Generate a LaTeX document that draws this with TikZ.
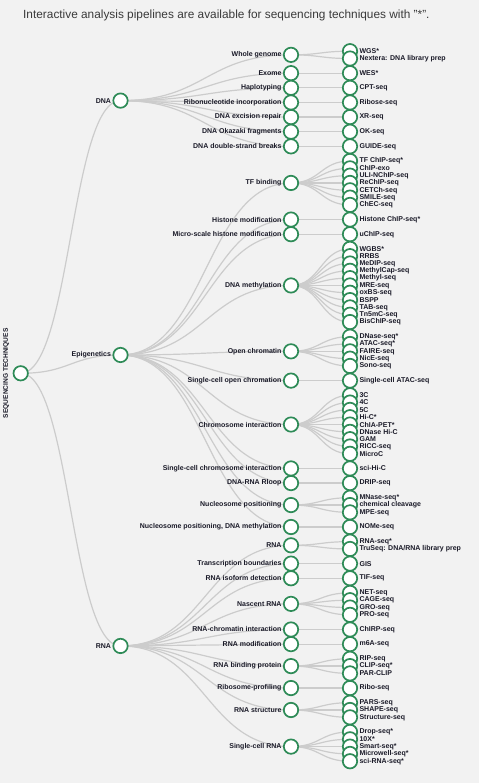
\documentclass[tikz,border=0pt]{standalone}
\usepackage{fontspec}
\setmainfont{Liberation Sans}
\usetikzlibrary{calc}
\definecolor{bgc}{HTML}{F2F2F2}
\definecolor{grn}{HTML}{2E8B57}
\definecolor{lnc}{HTML}{CCCCCC}
\definecolor{txc}{HTML}{1A1A28}
\definecolor{ttl}{HTML}{3A3A3A}
\pgfdeclarelayer{back}
\pgfdeclarelayer{bg}
\pgfsetlayers{back,bg,main}
\newcommand\Lk[2]{\begin{pgfonlayer}{bg}\draw[lnkline] let \p1=(#1.center),\p2=(#2.center) in (\p1) .. controls ({(\x1+\x2)/2},\y1) and ({(\x1+\x2)/2},\y2) .. (\p2);\end{pgfonlayer}}
\newcommand\Md[6]{\node[circ,label={[lab]#4:{#5}}] (#1) at (#2,{51.2+7.32*(#3)}) {};\Lk{#6}{#1}}
\begin{document}
\begin{tikzpicture}[x=1pt,y=-1pt,
  circ/.style={circle,draw=grn,fill=white,line width=1.7pt,minimum size=14.4pt,inner sep=0pt},
  lab/.style={font=\fontsize{7}{8}\selectfont\bfseries,text=txc,inner sep=1pt,label distance=0.3pt},
  lnkline/.style={draw=lnc,line width=1.2pt}]
\begin{pgfonlayer}{back}
\fill[bgc] (0,0) rectangle (479,783);
\end{pgfonlayer}
\useasboundingbox (0,0) rectangle (479,783);
\node[anchor=base west,font=\fontsize{11.85}{14}\selectfont,text=ttl,inner sep=0pt] (title) at (23,18.3) {Interactive analysis pipelines are available for sequencing techniques with "*".};
\node[rotate=90,font=\fontsize{6.6}{8}\selectfont\bfseries,text=txc,inner sep=0pt] (roottxt) at (6.2,373.3) {SEQUENCING TECHNIQUES};
% root
\node[circ] (root) at (20.7,{51.2+7.32*44}) {};
% level 1
\Md{dna}{120.5}{6.75}{left}{DNA}{root}
\Md{epi}{120.5}{41.5}{left}{Epigenetics}{root}
\Md{rna}{120.5}{81.25}{left}{RNA}{root}
% level 2
\Md{wg}{291}{0.5}{left}{Whole genome}{dna}
\Md{exo}{291}{3}{left}{Exome}{dna}
\Md{hap}{291}{5}{left}{Haplotyping}{dna}
\Md{rib}{291}{7}{left}{Ribonucleotide incorporation}{dna}
\Md{exc}{291}{9}{left}{DNA excision repair}{dna}
\Md{oka}{291}{11}{left}{DNA Okazaki fragments}{dna}
\Md{dsb}{291}{13}{left}{DNA double-strand breaks}{dna}
\Md{tfb}{291}{18}{left}{TF binding}{epi}
\Md{hmod}{291}{23}{left}{Histone modification}{epi}
\Md{msh}{291}{25}{left}{Micro-scale histone modification}{epi}
\Md{meth}{291}{32}{left}{DNA methylation}{epi}
\Md{opc}{291}{41}{left}{Open chromatin}{epi}
\Md{scoc}{291}{45}{left}{Single-cell open chromation}{epi}
\Md{chr}{291}{51}{left}{Chromosome interaction}{epi}
\Md{scci}{291}{57}{left}{Single-cell chromosome interaction}{epi}
\Md{rloop}{291}{59}{left}{DNA-RNA Rloop}{epi}
\Md{nuc}{291}{62}{left}{Nucleosome positioning}{epi}
\Md{nucm}{291}{65}{left}{Nucleosome positioning, DNA methylation}{epi}
\Md{rnab}{291}{67.5}{left}{RNA}{rna}
\Md{tsb}{291}{70}{left}{Transcription boundaries}{rna}
\Md{iso}{291}{72}{left}{RNA isoform detection}{rna}
\Md{nas}{291}{75.5}{left}{Nascent RNA}{rna}
\Md{rch}{291}{79}{left}{RNA-chromatin interaction}{rna}
\Md{rmod}{291}{81}{left}{RNA modification}{rna}
\Md{rbp}{291}{84}{left}{RNA binding protein}{rna}
\Md{ribo}{291}{87}{left}{Ribosome-profiling}{rna}
\Md{rst}{291}{90}{left}{RNA structure}{rna}
\Md{scr}{291}{95}{left}{Single-cell RNA}{rna}
% level 3
\Md{l0}{350}{0}{right}{WGS*}{wg}
\Md{l1}{350}{1}{right}{Nextera: DNA library prep}{wg}
\Md{l3}{350}{3}{right}{WES*}{exo}
\Md{l5}{350}{5}{right}{CPT-seq}{hap}
\Md{l7}{350}{7}{right}{Ribose-seq}{rib}
\Md{l9}{350}{9}{right}{XR-seq}{exc}
\Md{l11}{350}{11}{right}{OK-seq}{oka}
\Md{l13}{350}{13}{right}{GUIDE-seq}{dsb}
\Md{l15}{350}{15}{right}{TF ChIP-seq*}{tfb}
\Md{l16}{350}{16}{right}{ChIP-exo}{tfb}
\Md{l17}{350}{17}{right}{ULI-NChIP-seq}{tfb}
\Md{l18}{350}{18}{right}{ReChIP-seq}{tfb}
\Md{l19}{350}{19}{right}{CETCh-seq}{tfb}
\Md{l20}{350}{20}{right}{SMILE-seq}{tfb}
\Md{l21}{350}{21}{right}{ChEC-seq}{tfb}
\Md{l23}{350}{23}{right}{Histone ChIP-seq*}{hmod}
\Md{l25}{350}{25}{right}{uChIP-seq}{msh}
\Md{l27}{350}{27}{right}{WGBS*}{meth}
\Md{l28}{350}{28}{right}{RRBS}{meth}
\Md{l29}{350}{29}{right}{MeDIP-seq}{meth}
\Md{l30}{350}{30}{right}{MethylCap-seq}{meth}
\Md{l31}{350}{31}{right}{Methyl-seq}{meth}
\Md{l32}{350}{32}{right}{MRE-seq}{meth}
\Md{l33}{350}{33}{right}{oxBS-seq}{meth}
\Md{l34}{350}{34}{right}{BSPP}{meth}
\Md{l35}{350}{35}{right}{TAB-seq}{meth}
\Md{l36}{350}{36}{right}{Tn5mC-seq}{meth}
\Md{l37}{350}{37}{right}{BisChIP-seq}{meth}
\Md{l39}{350}{39}{right}{DNase-seq*}{opc}
\Md{l40}{350}{40}{right}{ATAC-seq*}{opc}
\Md{l41}{350}{41}{right}{FAIRE-seq}{opc}
\Md{l42}{350}{42}{right}{NicE-seq}{opc}
\Md{l43}{350}{43}{right}{Sono-seq}{opc}
\Md{l45}{350}{45}{right}{Single-cell ATAC-seq}{scoc}
\Md{l47}{350}{47}{right}{3C}{chr}
\Md{l48}{350}{48}{right}{4C}{chr}
\Md{l49}{350}{49}{right}{5C}{chr}
\Md{l50}{350}{50}{right}{Hi-C*}{chr}
\Md{l51}{350}{51}{right}{ChIA-PET*}{chr}
\Md{l52}{350}{52}{right}{DNase Hi-C}{chr}
\Md{l53}{350}{53}{right}{GAM}{chr}
\Md{l54}{350}{54}{right}{RICC-seq}{chr}
\Md{l55}{350}{55}{right}{MicroC}{chr}
\Md{l57}{350}{57}{right}{sci-Hi-C}{scci}
\Md{l59}{350}{59}{right}{DRIP-seq}{rloop}
\Md{l61}{350}{61}{right}{MNase-seq*}{nuc}
\Md{l62}{350}{62}{right}{chemical cleavage}{nuc}
\Md{l63}{350}{63}{right}{MPE-seq}{nuc}
\Md{l65}{350}{65}{right}{NOMe-seq}{nucm}
\Md{l67}{350}{67}{right}{RNA-seq*}{rnab}
\Md{l68}{350}{68}{right}{TruSeq: DNA/RNA library prep}{rnab}
\Md{l70}{350}{70}{right}{GIS}{tsb}
\Md{l72}{350}{72}{right}{TIF-seq}{iso}
\Md{l74}{350}{74}{right}{NET-seq}{nas}
\Md{l75}{350}{75}{right}{CAGE-seq}{nas}
\Md{l76}{350}{76}{right}{GRO-seq}{nas}
\Md{l77}{350}{77}{right}{PRO-seq}{nas}
\Md{l79}{350}{79}{right}{ChIRP-seq}{rch}
\Md{l81}{350}{81}{right}{m6A-seq}{rmod}
\Md{l83}{350}{83}{right}{RIP-seq}{rbp}
\Md{l84}{350}{84}{right}{CLIP-seq*}{rbp}
\Md{l85}{350}{85}{right}{PAR-CLIP}{rbp}
\Md{l87}{350}{87}{right}{Ribo-seq}{ribo}
\Md{l89}{350}{89}{right}{PARS-seq}{rst}
\Md{l90}{350}{90}{right}{SHAPE-seq}{rst}
\Md{l91}{350}{91}{right}{Structure-seq}{rst}
\Md{l93}{350}{93}{right}{Drop-seq*}{scr}
\Md{l94}{350}{94}{right}{10X*}{scr}
\Md{l95}{350}{95}{right}{Smart-seq*}{scr}
\Md{l96}{350}{96}{right}{Microwell-seq*}{scr}
\Md{l97}{350}{97}{right}{sci-RNA-seq*}{scr}
\end{tikzpicture}
\end{document}
